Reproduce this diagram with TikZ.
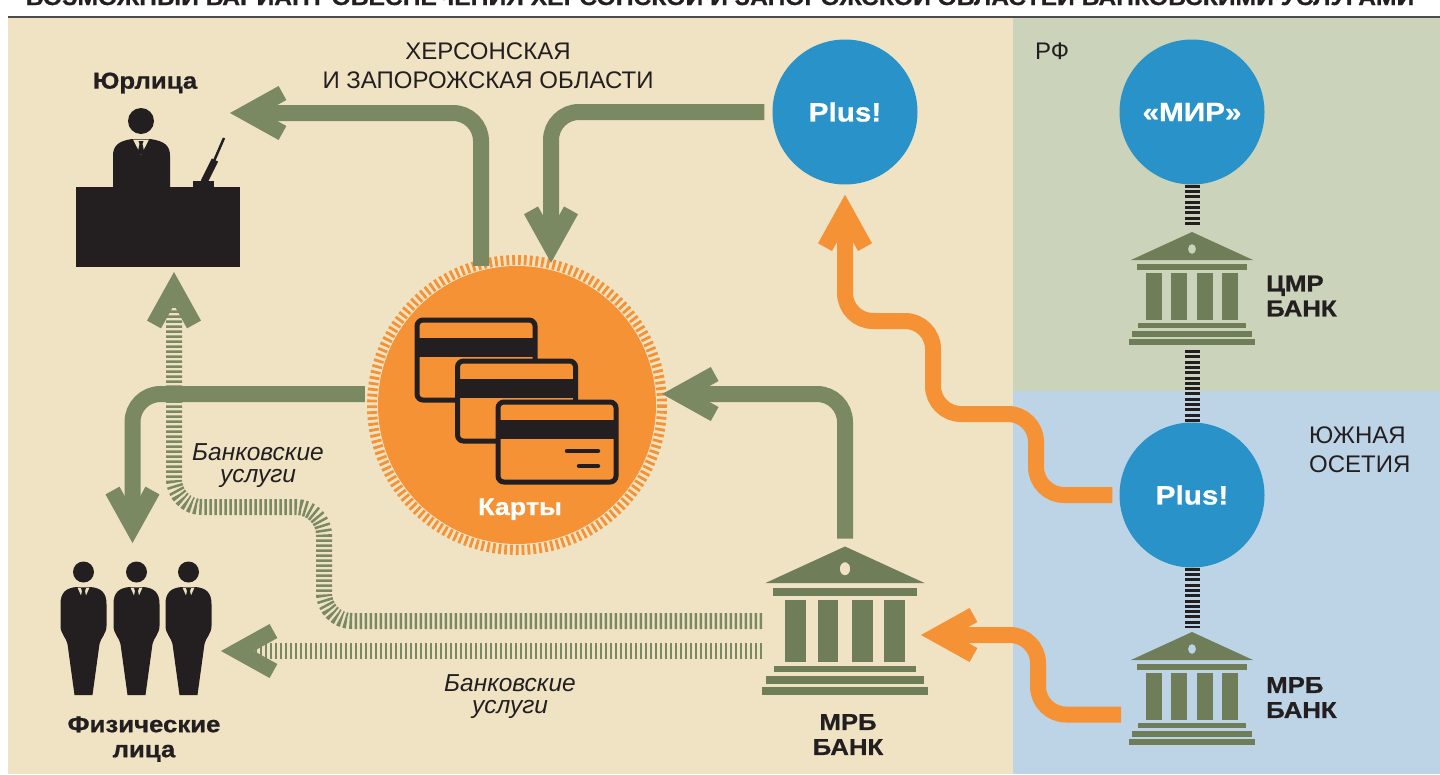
\documentclass[tikz,border=0pt]{standalone}
\usepackage{fontspec}
\setmainfont{Liberation Sans}
\newfontfamily\gras{Liberation Sans}[FakeStretch=1.12, BoldFeatures={FakeBold=0.8}]
\usetikzlibrary{arrows.meta}
\definecolor{fondB}{HTML}{EFE3C4}
\definecolor{vertP}{HTML}{CBD3BA}
\definecolor{bleuP}{HTML}{BDD4E6}
\definecolor{vertF}{HTML}{7A8962}
\definecolor{vertB}{HTML}{6F7D58}
\definecolor{orangeC}{HTML}{F59236}
\definecolor{bleuC}{HTML}{2993C9}
\definecolor{noir}{HTML}{231F20}

\tikzset{
  fleche/.style={line width=16pt, rounded corners=28pt, -{Straight Barb[length=36pt,width=40pt]}},
  flecheV/.style={fleche, draw=vertF},
  flecheO/.style={fleche, draw=orangeC},
  hachure/.style={fleche, draw=vertF, dash pattern=on 2.5pt off 2.5pt},
  echelle/.style={draw=noir, line width=15pt, dash pattern=on 3pt off 2.3pt},
  rond/.style={circle, fill=bleuC, minimum size=145pt, inner sep=0pt, text=white,
    font=\gras\bfseries\fontsize{26.5}{30}\selectfont},
  disque/.style={circle, fill=orangeC, minimum size=278pt, inner sep=0pt},
  anneau/.style={draw=orangeC, line width=10pt, dash pattern=on 2.8pt off 3pt},
  carte/.style={fill=orangeC, draw=noir, line width=5pt, rounded corners=6pt},
  boite/.style={inner sep=0pt, outer sep=0pt},
  banq/.style={boite, minimum width=126pt, minimum height=113pt},
  etiq/.style={inner sep=0pt, align=center, text=noir, font=\gras\bfseries\fontsize{23}{25}\selectfont},
  leg/.style={inner sep=0pt, align=left, text=noir, font=\fontsize{24}{28.5}\selectfont},
  ital/.style={inner sep=0pt, align=center, text=noir, font=\itshape\fontsize{24.5}{22}\selectfont},
  pics/banque/.style={code={
    \fill[vertB, even odd rule] (-61,28) -- (0,0) -- (61,28) -- cycle (0,17) ellipse (4 and 5);
    \fill[vertB] (-55,32) rectangle (55,38);
    \foreach \cx in {-38,-13,13,38} \fill[vertB] (\cx-8,41) rectangle (\cx+8,88);
    \fill[vertB] (-54,91) rectangle (54,96);
    \fill[vertB] (-60,99) rectangle (60,105);
    \fill[vertB] (-63,107) rectangle (63,113);
  }},
  pics/homme/.style={code={
    \fill[noir] (0,0) circle (10.5);
    \fill[noir] (-7,15) .. controls (-18,16) and (-23,21) .. (-23,32) -- (-23,54)
      .. controls (-23,62) and (-17,66) .. (-16,72) -- (-9,123) -- (9,123) -- (16,72)
      .. controls (17,66) and (23,62) .. (23,54) -- (23,32) .. controls (23,21) and (18,16) .. (7,15) -- cycle;
    \fill[fondB] (-6,15.5) -- (0,29) -- (6,15.5) -- cycle;
    \fill[noir] (-2.5,16) -- (2.5,16) -- (1.5,19) -- (3,26) -- (0,30) -- (-3,26) -- (-1.5,19) -- cycle;
  }},
  pics/bureau/.style={code={
    \fill[noir] (-17,-66) circle (13);
    \fill[noir] (-26,-48) .. controls (-40,-46) and (-45,-41) .. (-45,-31) -- (-45,2) -- (12,2)
      -- (12,-31) .. controls (12,-41) and (7,-46) .. (-8,-48) -- cycle;
    \fill[fondB] (-25,-47.5) -- (-17,-32) -- (-9,-47.5) -- cycle;
    \fill[noir] (-19.5,-46) -- (-14.5,-46) -- (-15.5,-43) -- (-14,-36) -- (-17,-32) -- (-20,-36) -- (-18.5,-43) -- cycle;
    \fill[noir] (-82,0) rectangle (82,80);
    \fill[noir] (35,-6) rectangle (56,1);
    \draw[noir, line width=2.5pt] (66,-49) -- (56,-26);
    \draw[noir, line width=7pt] (57,-27) -- (46,-5);
  }}
}

\begin{document}
\begin{tikzpicture}[x=1pt,y=-1pt]
\useasboundingbox (0,0) rectangle (1440,774);

% fonds
\fill[fondB] (7.5,18) rectangle (1013,774);
\fill[vertP] (1013,18) rectangle (1440,391);
\fill[bleuP] (1013,391) rectangle (1440,774);
\draw[line width=1.6pt, black!70] (7.5,17.2) -- (1440,17.2);
\node[anchor=base, inner sep=0pt, text=noir, font=\gras\bfseries\fontsize{22}{26}\selectfont] (titre) at (720,5)
  {ВОЗМОЖНЫЙ ВАРИАНТ ОБЕСПЕЧЕНИЯ ХЕРСОНСКОЙ И ЗАПОРОЖСКОЙ ОБЛАСТЕЙ БАНКОВСКИМИ УСЛУГАМИ};

% textes
\node[leg, align=center] (oblasti) at (488,65.5) {ХЕРСОНСКАЯ\\И ЗАПОРОЖСКАЯ ОБЛАСТИ};
\node[leg, anchor=west] (rf) at (1035,51) {РФ};
\node[leg, anchor=west] (osetia) at (1309,449.5) {ЮЖНАЯ\\ОСЕТИЯ};
\node[etiq] (jurT) at (145,83) {Юрлица};
\node[etiq] (fizT) at (144,739) {Физические\\лица};
\node[etiq, align=left, anchor=west] (cmrT) at (1266,296) {ЦМР\\БАНК};
\node[etiq, align=left, anchor=west] (mrbOT) at (1266,697.5) {МРБ\\БАНК};
\node[etiq] (mrbHT) at (848,734.5) {МРБ\\БАНК};
\node[ital] (uslA) at (258,466) {Банковские\\услуги};
\node[ital] (uslB) at (510,697) {Банковские\\услуги};

% noeuds
\node[rond] (plusH) at (845,112) {Plus!};
\node[rond] (mir) at (1192,112) {«МИР»};
\node[rond] (plusO) at (1192,495) {Plus!};
\node[disque] (karty) at (517,405) {};
\draw[anneau] (karty.center) circle[radius=145];
\node[etiq, text=white, anchor=base, font=\gras\bfseries\fontsize{24}{28}\selectfont] (kartyT) at (520,515) {Карты};
\node[banq] (cmr) at (1192,288.5) {};
\node[banq] (mrbO) at (1192,688.5) {};
\node[banq, minimum width=166pt, minimum height=149pt] (mrbH) at (845,621) {};
\node[boite, minimum width=164pt, minimum height=160pt] (jur) at (158,187) {};
\node[boite, minimum width=153pt, minimum height=134pt] (fiz) at (136.5,628) {};

% dessins
\pic at (cmr.north) {banque};
\pic at (mrbO.north) {banque};
\pic[scale=1.31] at (mrbH.north) {banque};
\pic at (jur.center) {bureau};
\foreach \dx in {-53,0,52} \pic at ([shift={(\dx,-56)}]fiz.center) {homme};
\foreach \k in {0,1,2}{
  \filldraw[carte] ([shift={(-100+40.5*\k,-85+41*\k)}]karty.center) rectangle ++(118,80);
  \fill[noir] ([shift={(-100+40.5*\k,-67+41*\k)}]karty.center) rectangle ++(118,19);
}
\draw[noir, line width=4.5pt, line cap=round] ([shift={(50,46)}]karty.center) -- ++(31,0);
\draw[noir, line width=4.5pt, line cap=round] ([shift={(62,61)}]karty.center) -- ++(19,0);

% liaisons
\draw[echelle] (mir.south) -- ([yshift=7pt]cmr.north);
\draw[echelle] ([yshift=-5pt]cmr.south) -- (plusO.north);
\draw[echelle] (plusO.south) -- ([yshift=4pt]mrbO.north);

\draw[flecheV] ([xshift=-36pt]karty.north) |- ([shift={(-10,6)}]jur.north east);
\draw[flecheV, shorten >=3pt] ([xshift=-8pt]plusH.west) -| ([xshift=34pt]karty.north);
\draw[flecheV, shorten >=18pt] ([shift={(-13,-11)}]karty.west) -| ([xshift=-4pt]fiz.north);
\draw[flecheV] ([yshift=8pt]mrbH.north) |- ([shift={(6,-11)}]karty.east);
\draw[hachure, shorten >=5pt] (mrbH.west) -| (324,507) -| ([xshift=16pt]jur.south);
\draw[hachure] ([yshift=-30pt]mrbH.west) -- ([xshift=8pt,yshift=-30pt]mrbH.west -| fiz.east);
\draw[flecheO, shorten >=10pt] ([xshift=-7pt]plusO.west) -| (1036,414) -| (933,321) -| (plusH.south);
\draw[flecheO] ([shift={(-8,26)}]mrbO.west) -| (1038,635) -- ([shift={(-7,14)}]mrbH.east);
\end{tikzpicture}
\end{document}
